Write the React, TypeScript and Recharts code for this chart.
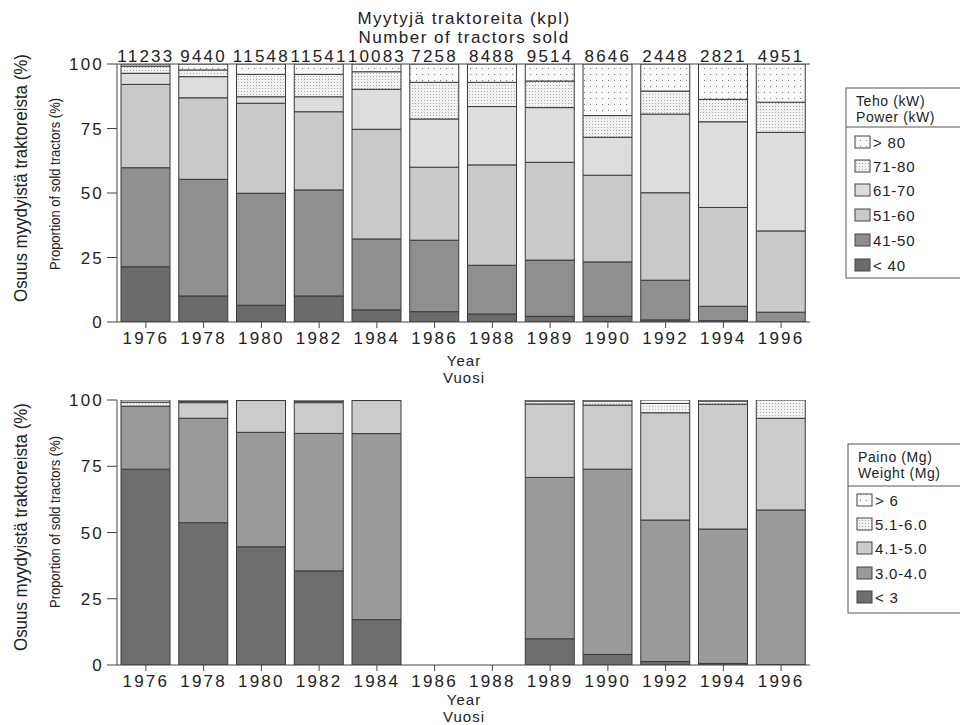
import React from 'react';
import { BarChart, Bar, XAxis, YAxis } from 'recharts';

const years = ['1976', '1978', '1980', '1982', '1984', '1986', '1988', '1989', '1990', '1992', '1994', '1996'];
const soldCounts = [11233, 9440, 11548, 11541, 10083, 7258, 8488, 9514, 8646, 2448, 2821, 4951];

// share of sold tractors by engine power (%)
const powerUnder40 = [21.4, 10.1, 6.5, 10.1, 4.7, 4.0, 3.1, 2.2, 2.2, 0.8, 0.5, 0];
const power41to50 = [38.4, 45.2, 43.4, 41.1, 27.5, 27.7, 18.9, 21.8, 21.1, 15.4, 5.6, 3.8];
const power51to60 = [32.3, 31.6, 34.9, 30.3, 42.5, 28.3, 38.9, 37.9, 33.6, 33.9, 38.3, 31.5];
const power61to70 = [4.3, 8.2, 2.5, 5.8, 15.5, 18.7, 22.6, 21.2, 14.7, 30.5, 33.2, 38.2];
const power71to80 = [2.8, 2.6, 8.7, 8.7, 6.8, 14.2, 9.4, 10.3, 8.4, 8.9, 8.7, 11.7];
const powerOver80 = [0.8, 2.3, 4.0, 4.0, 3.0, 7.1, 7.1, 6.6, 20.0, 10.5, 13.7, 14.8];

// share of sold tractors by weight (%), no data for 1986 and 1988
const weightUnder3 = [73.9, 53.7, 44.6, 35.5, 17.1, null, null, 9.9, 4.0, 1.3, 0.6, 0.2];
const weight3to4 = [23.8, 39.4, 43.2, 51.9, 70.2, null, null, 60.9, 69.9, 53.4, 50.7, 58.3];
const weight4to5 = [0, 5.9, 12.0, 11.6, 12.5, null, null, 27.7, 24.2, 40.5, 47.1, 34.6];
const weight5to6 = [1.5, 0.5, 0.2, 0.5, 0.2, null, null, 1.1, 1.5, 3.5, 1.2, 6.9];
const weightOver6 = [0.8, 0.5, 0, 0.5, 0, null, null, 0.4, 0.4, 1.3, 0.4, 0];

const yTicks = [0, 25, 50, 75, 100];

const powerSeries = [
    { key: 'p40', name: '< 40', values: powerUnder40, fill: '#6b6b6b' },
    { key: 'p50', name: '41-50', values: power41to50, fill: '#8f8f8f' },
    { key: 'p60', name: '51-60', values: power51to60, fill: '#c9c9c9' },
    { key: 'p70', name: '61-70', values: power61to70, fill: '#dddddd' },
    { key: 'p80', name: '71-80', values: power71to80, fill: 'url(#dotsFine)' },
    { key: 'p99', name: '> 80', values: powerOver80, fill: 'url(#dotsSparse)' },
];

const weightSeries = [
    { key: 'w3', name: '< 3', values: weightUnder3, fill: '#6e6e6e' },
    { key: 'w4', name: '3.0-4.0', values: weight3to4, fill: '#9a9a9a' },
    { key: 'w5', name: '4.1-5.0', values: weight4to5, fill: '#cbcbcb' },
    { key: 'w6', name: '5.1-6.0', values: weight5to6, fill: 'url(#dotsFine)' },
    { key: 'w9', name: '> 6', values: weightOver6, fill: 'url(#dotsSparse)' },
];

const powerData = years.map((year, i) => {
    const row: any = { year, sold: String(soldCounts[i]) };
    powerSeries.forEach(s => { row[s.key] = s.values[i]; });
    return row;
});

const weightData = years.map((year, i) => {
    const row: any = { year };
    weightSeries.forEach(s => { row[s.key] = s.values[i]; });
    return row;
});

const FONT = '"Liberation Sans", Arial, sans-serif';
const INK = '#222';
const LINE = '#444';

const tickStyle = { fontSize: 17, fill: INK, fontFamily: FONT, letterSpacing: 2.2 };

const Patterns = () => (
    <defs>
        <pattern id="dotsSparse" width="6" height="6" patternUnits="userSpaceOnUse">
            <rect width="6" height="6" fill="#fafafa" />
            <rect x="2" y="2" width="1" height="1" fill="#777" />
        </pattern>
        <pattern id="dotsFine" width="3" height="3" patternUnits="userSpaceOnUse">
            <rect width="3" height="3" fill="#f2f2f2" />
            <rect x="1" y="1" width="1" height="1" fill="#aaa" />
        </pattern>
    </defs>
);

const Legend = ({ x, y, h, sepY, header, items, rows }: any) => (
    <g fontFamily={FONT} fill={INK}>
        <rect x={x} y={y} width={130} height={h} fill="none" stroke="#555" />
        <line x1={x} y1={sepY} x2={x + 130} y2={sepY} stroke="#555" />
        <text x={x + 10} y={header[0].y} fontSize={14} letterSpacing={0.6}>{header[0].text}</text>
        <text x={x + 10} y={header[1].y} fontSize={14} letterSpacing={0.6}>{header[1].text}</text>
        {items.map((s: any, i: number) => (
            <g key={s.key}>
                <rect x={x + 9} y={rows[i] - 6} width={15} height={12} fill={s.fill} stroke={LINE} />
                <text x={x + 27} y={rows[i] + 5.5} fontSize={15} letterSpacing={0.8}>{s.name}</text>
            </g>
        ))}
    </g>
);

export default function App() {
    return (
        <div style={{ position: 'absolute', left: 0, top: 0, width: 960, height: 725, background: '#fff', overflow: 'hidden' }}>
            {/* Power distribution */}
            <div style={{ position: 'absolute', left: 0, top: 0 }}>
                <BarChart width={830} height={390} data={powerData} margin={{ top: 34, right: 20, bottom: 0, left: 0 }} barSize={49}>
                    <Patterns />
                    <XAxis dataKey="year" height={68} tickSize={6} tickMargin={4} stroke={LINE} tick={tickStyle} interval={0} />
                    <XAxis xAxisId="sold" dataKey="sold" orientation="top" height={30} tickLine={false} tickSize={2} tickMargin={0} stroke={LINE} tick={tickStyle} interval={0} />
                    <YAxis width={117} domain={[0, 100]} ticks={yTicks} allowDataOverflow tickSize={10} tickMargin={3} stroke={LINE} tick={tickStyle} />
                    <YAxis yAxisId="frame" orientation="right" width={0} domain={[0, 100]} tick={false} tickLine={false} stroke={LINE} />
                    {powerSeries.map(s => (
                        <Bar key={s.key} dataKey={s.key} name={s.name} stackId="power" fill={s.fill} stroke="#3a3a3a" strokeWidth={1} isAnimationActive={false} />
                    ))}
                </BarChart>
            </div>

            {/* Weight distribution */}
            <div style={{ position: 'absolute', left: 0, top: 360 }}>
                <BarChart width={830} height={365} data={weightData} margin={{ top: 40, right: 20, bottom: 0, left: 0 }} barSize={49}>
                    <Patterns />
                    <XAxis dataKey="year" height={60} tickSize={6} tickMargin={4} stroke={LINE} tick={tickStyle} interval={0} />
                    <XAxis xAxisId="frame" dataKey="year" orientation="top" height={0} tick={false} tickLine={false} stroke={LINE} />
                    <YAxis width={117} domain={[0, 100]} ticks={yTicks} allowDataOverflow tickSize={10} tickMargin={3} stroke={LINE} tick={tickStyle} />
                    <YAxis yAxisId="frame" orientation="right" width={0} domain={[0, 100]} tick={false} tickLine={false} stroke={LINE} />
                    {weightSeries.map(s => (
                        <Bar key={s.key} dataKey={s.key} name={s.name} stackId="weight" fill={s.fill} stroke="#3a3a3a" strokeWidth={1} isAnimationActive={false} />
                    ))}
                </BarChart>
            </div>

            {/* titles, axis captions and legends */}
            <svg width={960} height={725} style={{ position: 'absolute', left: 0, top: 0, pointerEvents: 'none' }}>
                <Patterns />
                <g fontFamily={FONT} fill={INK} textAnchor="middle">
                    <text x={464} y={24} fontSize={17} letterSpacing={1.5}>Myytyjä traktoreita (kpl)</text>
                    <text x={464} y={43} fontSize={17} letterSpacing={1.5}>Number of tractors sold</text>
                    <text x={464} y={366} fontSize={15} letterSpacing={1}>Year</text>
                    <text x={464} y={383} fontSize={15} letterSpacing={1}>Vuosi</text>
                    <text x={464} y={705} fontSize={15} letterSpacing={1}>Year</text>
                    <text x={464} y={722} fontSize={15} letterSpacing={1}>Vuosi</text>
                    <text transform="translate(27,178) rotate(-90)" fontSize={18} textLength={248} lengthAdjust="spacingAndGlyphs">Osuus myydyistä traktoreista (%)</text>
                    <text transform="translate(60,184) rotate(-90)" fontSize={14} textLength={172} lengthAdjust="spacingAndGlyphs">Proportion of sold tractors (%)</text>
                    <text transform="translate(27,527) rotate(-90)" fontSize={18} textLength={248} lengthAdjust="spacingAndGlyphs">Osuus myydyistä traktoreista (%)</text>
                    <text transform="translate(60,522) rotate(-90)" fontSize={14} textLength={172} lengthAdjust="spacingAndGlyphs">Proportion of sold tractors (%)</text>
                </g>
                <Legend
                    x={846} y={88} h={190} sepY={127}
                    header={[{ text: 'Teho (kW)', y: 106 }, { text: 'Power (kW)', y: 122 }]}
                    items={[...powerSeries].reverse()}
                    rows={[142, 166, 190, 215, 240, 265]}
                />
                <Legend
                    x={848} y={444} h={169} sepY={486}
                    header={[{ text: 'Paino (Mg)', y: 462 }, { text: 'Weight (Mg)', y: 478 }]}
                    items={[...weightSeries].reverse()}
                    rows={[500, 524, 548, 573, 597]}
                />
            </svg>
        </div>
    );
}
